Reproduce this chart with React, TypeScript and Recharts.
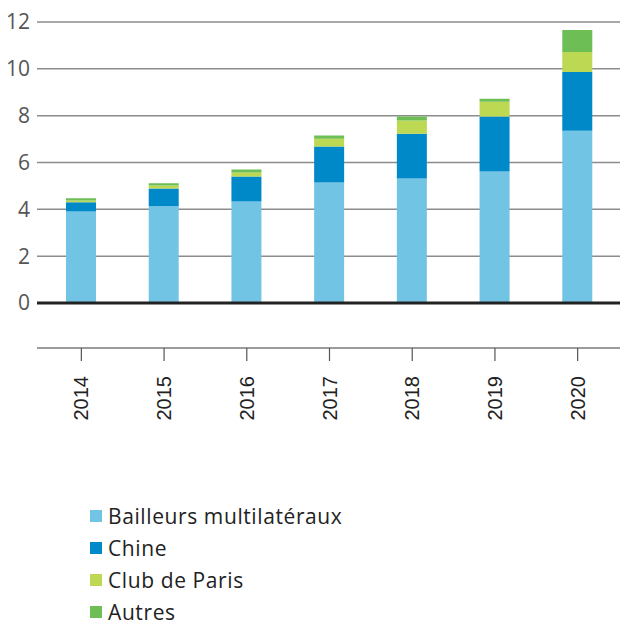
import React from "react";
import { BarChart, Bar, XAxis, YAxis, CartesianGrid, ReferenceLine, Legend } from "recharts";

const years = ["2014", "2015", "2016", "2017", "2018", "2019", "2020"];
const bailleurs = [3.91, 4.13, 4.34, 5.15, 5.32, 5.62, 7.36];
const chine = [0.39, 0.76, 1.06, 1.53, 1.91, 2.34, 2.51];
const clubParis = [0.08, 0.13, 0.17, 0.34, 0.56, 0.64, 0.85];
const autres = [0.09, 0.09, 0.13, 0.13, 0.17, 0.12, 0.94];
const yTicks = [0, 2, 4, 6, 8, 10, 12];

const seriesNames = ["Bailleurs multilatéraux", "Chine", "Club de Paris", "Autres"];
const colors = ["#72C4E4", "#0089C8", "#BDD852", "#6DBE54"];

const data = years.map((y, i) => ({
  year: y,
  b: bailleurs[i],
  c: chine[i],
  p: clubParis[i],
  a: autres[i],
}));

const XTick = (props: any) => {
  const { x, y, payload } = props;
  return (
    <g transform={`translate(${x},${y + 13})`}>
      <text
        transform="rotate(-90)"
        x={0}
        y={0}
        dy="0.355em"
        textAnchor="end"
        fill="#222"
        fontSize={20}
        fontFamily="'Liberation Sans', Arial, sans-serif"
      >
        {payload.value}
      </text>
    </g>
  );
};

const LegendContent = (props: any) => {
  const payload = [...(props.payload || [])].sort(
    (p: any, q: any) => seriesNames.indexOf(p.value) - seriesNames.indexOf(q.value)
  );
  return (
    <div
      style={{
        marginLeft: 90,
        fontFamily: "'Open Sans', sans-serif",
        fontSize: 21,
        letterSpacing: 0.6,
        color: "#222",
      }}
    >
      {payload.map((entry: any, i: number) => (
        <div
          key={i}
          style={{ display: "flex", alignItems: "center", height: 24, marginTop: i === 0 ? 0 : 8, whiteSpace: "nowrap" }}
        >
          <span style={{ display: "inline-block", width: 12, height: 12, background: entry.color, marginRight: 6 }} />
          <span style={{ lineHeight: "24px" }}>{entry.value}</span>
        </div>
      ))}
    </div>
  );
};

export default function App() {
  return (
    <BarChart
      width={628}
      height={612}
      data={data}
      margin={{ top: 14, right: 0, bottom: 0, left: 0 }}
      barSize={30}
      style={{ marginLeft: -8, overflow: "hidden" }}
    >
      <CartesianGrid vertical={false} stroke="#8c8c8c" strokeWidth={1.5} />
      <XAxis
        dataKey="year"
        height={152}
        padding={{ left: 3, right: 9 }}
        tickSize={13}
        tickMargin={2}
        tickLine={{ stroke: "#555", strokeWidth: 1.2 }}
        axisLine={{ stroke: "#999", strokeWidth: 1.5 }}
        tick={<XTick />}
        interval={0}
      />
      <YAxis
        width={37}
        domain={[-1.92, 12]}
        ticks={yTicks}
        allowDataOverflow
        tickLine={false}
        axisLine={false}
        tickSize={5}
        tickMargin={2}
        tick={{ fill: "#555", fontSize: 21, fontFamily: "'Open Sans', sans-serif" }}
      />
      <ReferenceLine y={0} stroke="#222" strokeWidth={3} />
      <Bar dataKey="b" name={seriesNames[0]} stackId="s" fill={colors[0]} isAnimationActive={false} />
      <Bar dataKey="c" name={seriesNames[1]} stackId="s" fill={colors[1]} isAnimationActive={false} />
      <Bar dataKey="p" name={seriesNames[2]} stackId="s" fill={colors[2]} isAnimationActive={false} />
      <Bar dataKey="a" name={seriesNames[3]} stackId="s" fill={colors[3]} isAnimationActive={false} />
      <Legend
        layout="horizontal"
        verticalAlign="bottom"
        align="left"
        content={<LegendContent />}
        wrapperStyle={{ left: 0, bottom: -4 }}
      />
    </BarChart>
  );
}
